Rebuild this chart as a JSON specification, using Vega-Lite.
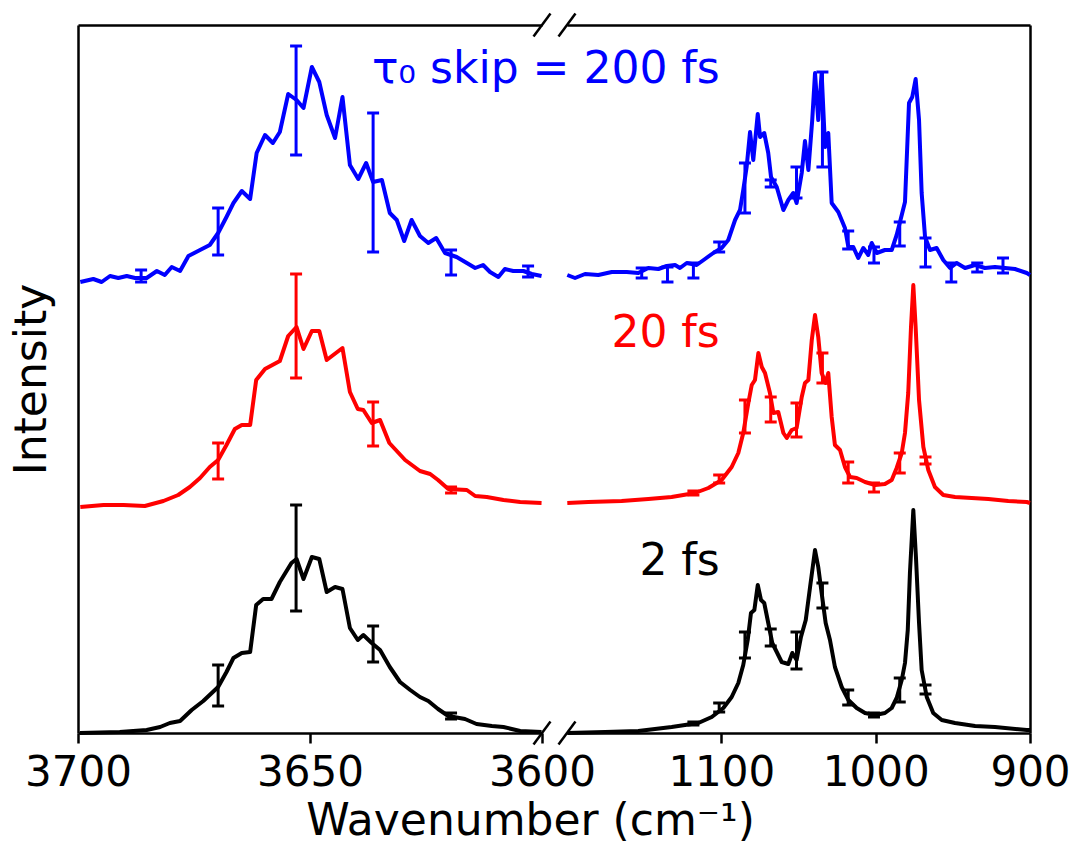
{
"$schema": "https://vega.github.io/schema/vega-lite/v6.json",
"padding": {"left": 10, "top": 12, "right": 5, "bottom": 0},
"bounds": "flush",
"spacing": 25,
"config": {"view": {"stroke": null}, "font": "DejaVu Sans",
  "axis": {"domainColor": "black", "domainWidth": 2.5, "tickColor": "black", "tickWidth": 2.5, "labelColor": "black", "titleColor": "black", "grid": false, "labelFont": "DejaVu Sans", "titleFont": "DejaVu Sans", "titleFontWeight": "normal"}},
"datasets": {
"spec": [
{"p":"L","s":"200 fs","x":3699.5,"y":4.51},{"p":"L","s":"200 fs","x":3696.7,"y":4.54},{"p":"L","s":"200 fs","x":3694.9,"y":4.51},{"p":"L","s":"200 fs","x":3693.1,"y":4.57},{"p":"L","s":"200 fs","x":3691.3,"y":4.55},{"p":"L","s":"200 fs","x":3689.5,"y":4.57},{"p":"L","s":"200 fs","x":3687.7,"y":4.55},{"p":"L","s":"200 fs","x":3685.2,"y":4.55},{"p":"L","s":"200 fs","x":3683.0,"y":4.62},{"p":"L","s":"200 fs","x":3681.3,"y":4.58},{"p":"L","s":"200 fs","x":3679.8,"y":4.66},{"p":"L","s":"200 fs","x":3678.0,"y":4.62},{"p":"L","s":"200 fs","x":3676.2,"y":4.77},{"p":"L","s":"200 fs","x":3673.7,"y":4.83},{"p":"L","s":"200 fs","x":3671.6,"y":4.88},{"p":"L","s":"200 fs","x":3669.8,"y":5.00},{"p":"L","s":"200 fs","x":3668.0,"y":5.16},{"p":"L","s":"200 fs","x":3666.5,"y":5.30},{"p":"L","s":"200 fs","x":3664.7,"y":5.42},{"p":"L","s":"200 fs","x":3662.9,"y":5.34},{"p":"L","s":"200 fs","x":3661.5,"y":5.80},{"p":"L","s":"200 fs","x":3659.7,"y":5.98},{"p":"L","s":"200 fs","x":3658.0,"y":5.90},{"p":"L","s":"200 fs","x":3656.5,"y":6.01},{"p":"L","s":"200 fs","x":3654.7,"y":6.39},{"p":"L","s":"200 fs","x":3652.9,"y":6.33},{"p":"L","s":"200 fs","x":3651.4,"y":6.25},{"p":"L","s":"200 fs","x":3649.6,"y":6.66},{"p":"L","s":"200 fs","x":3648.0,"y":6.51},{"p":"L","s":"200 fs","x":3646.4,"y":6.18},{"p":"L","s":"200 fs","x":3644.6,"y":5.95},{"p":"L","s":"200 fs","x":3643.0,"y":6.36},{"p":"L","s":"200 fs","x":3641.4,"y":5.68},{"p":"L","s":"200 fs","x":3639.6,"y":5.54},{"p":"L","s":"200 fs","x":3637.9,"y":5.70},{"p":"L","s":"200 fs","x":3636.4,"y":5.51},{"p":"L","s":"200 fs","x":3634.5,"y":5.53},{"p":"L","s":"200 fs","x":3632.8,"y":5.20},{"p":"L","s":"200 fs","x":3631.3,"y":5.13},{"p":"L","s":"200 fs","x":3629.7,"y":4.92},{"p":"L","s":"200 fs","x":3628.1,"y":5.13},{"p":"L","s":"200 fs","x":3626.3,"y":4.97},{"p":"L","s":"200 fs","x":3624.5,"y":4.90},{"p":"L","s":"200 fs","x":3622.8,"y":4.95},{"p":"L","s":"200 fs","x":3620.9,"y":4.80},{"p":"L","s":"200 fs","x":3618.4,"y":4.76},{"p":"L","s":"200 fs","x":3616.2,"y":4.70},{"p":"L","s":"200 fs","x":3614.4,"y":4.65},{"p":"L","s":"200 fs","x":3612.7,"y":4.68},{"p":"L","s":"200 fs","x":3611.2,"y":4.61},{"p":"L","s":"200 fs","x":3609.4,"y":4.56},{"p":"L","s":"200 fs","x":3608.0,"y":4.64},{"p":"L","s":"200 fs","x":3606.2,"y":4.62},{"p":"L","s":"200 fs","x":3604.0,"y":4.62},{"p":"L","s":"200 fs","x":3602.2,"y":4.59},{"p":"L","s":"200 fs","x":3600.1,"y":4.57},
{"p":"L","s":"20 fs","x":3699.5,"y":2.26},{"p":"L","s":"20 fs","x":3694.5,"y":2.28},{"p":"L","s":"20 fs","x":3690.2,"y":2.28},{"p":"L","s":"20 fs","x":3685.6,"y":2.27},{"p":"L","s":"20 fs","x":3681.6,"y":2.32},{"p":"L","s":"20 fs","x":3678.4,"y":2.38},{"p":"L","s":"20 fs","x":3675.9,"y":2.46},{"p":"L","s":"20 fs","x":3673.7,"y":2.55},{"p":"L","s":"20 fs","x":3671.6,"y":2.66},{"p":"L","s":"20 fs","x":3669.8,"y":2.73},{"p":"L","s":"20 fs","x":3668.0,"y":2.88},{"p":"L","s":"20 fs","x":3666.2,"y":3.04},{"p":"L","s":"20 fs","x":3664.7,"y":3.08},{"p":"L","s":"20 fs","x":3662.9,"y":3.08},{"p":"L","s":"20 fs","x":3661.6,"y":3.53},{"p":"L","s":"20 fs","x":3659.7,"y":3.64},{"p":"L","s":"20 fs","x":3656.5,"y":3.72},{"p":"L","s":"20 fs","x":3654.7,"y":3.97},{"p":"L","s":"20 fs","x":3652.9,"y":4.06},{"p":"L","s":"20 fs","x":3651.4,"y":3.84},{"p":"L","s":"20 fs","x":3649.6,"y":4.02},{"p":"L","s":"20 fs","x":3648.0,"y":4.02},{"p":"L","s":"20 fs","x":3646.4,"y":3.73},{"p":"L","s":"20 fs","x":3643.0,"y":3.85},{"p":"L","s":"20 fs","x":3641.4,"y":3.41},{"p":"L","s":"20 fs","x":3639.7,"y":3.24},{"p":"L","s":"20 fs","x":3638.5,"y":3.23},{"p":"L","s":"20 fs","x":3636.7,"y":3.10},{"p":"L","s":"20 fs","x":3634.9,"y":3.13},{"p":"L","s":"20 fs","x":3632.9,"y":2.90},{"p":"L","s":"20 fs","x":3629.5,"y":2.73},{"p":"L","s":"20 fs","x":3626.3,"y":2.62},{"p":"L","s":"20 fs","x":3624.1,"y":2.59},{"p":"L","s":"20 fs","x":3622.4,"y":2.53},{"p":"L","s":"20 fs","x":3620.2,"y":2.44},{"p":"L","s":"20 fs","x":3616.2,"y":2.43},{"p":"L","s":"20 fs","x":3614.4,"y":2.37},{"p":"L","s":"20 fs","x":3611.9,"y":2.36},{"p":"L","s":"20 fs","x":3608.3,"y":2.33},{"p":"L","s":"20 fs","x":3604.7,"y":2.31},{"p":"L","s":"20 fs","x":3600.1,"y":2.30},
{"p":"L","s":"2 fs","x":3699.6,"y":0.00},{"p":"L","s":"2 fs","x":3691.0,"y":0.01},{"p":"L","s":"2 fs","x":3685.2,"y":0.03},{"p":"L","s":"2 fs","x":3682.3,"y":0.06},{"p":"L","s":"2 fs","x":3680.2,"y":0.10},{"p":"L","s":"2 fs","x":3678.0,"y":0.12},{"p":"L","s":"2 fs","x":3675.5,"y":0.23},{"p":"L","s":"2 fs","x":3673.0,"y":0.32},{"p":"L","s":"2 fs","x":3669.8,"y":0.46},{"p":"L","s":"2 fs","x":3668.0,"y":0.61},{"p":"L","s":"2 fs","x":3666.5,"y":0.75},{"p":"L","s":"2 fs","x":3664.7,"y":0.80},{"p":"L","s":"2 fs","x":3662.9,"y":0.81},{"p":"L","s":"2 fs","x":3661.6,"y":1.28},{"p":"L","s":"2 fs","x":3660.1,"y":1.34},{"p":"L","s":"2 fs","x":3658.3,"y":1.34},{"p":"L","s":"2 fs","x":3656.5,"y":1.51},{"p":"L","s":"2 fs","x":3654.0,"y":1.70},{"p":"L","s":"2 fs","x":3652.9,"y":1.74},{"p":"L","s":"2 fs","x":3651.4,"y":1.54},{"p":"L","s":"2 fs","x":3649.6,"y":1.76},{"p":"L","s":"2 fs","x":3648.0,"y":1.74},{"p":"L","s":"2 fs","x":3646.4,"y":1.41},{"p":"L","s":"2 fs","x":3644.6,"y":1.46},{"p":"L","s":"2 fs","x":3643.0,"y":1.44},{"p":"L","s":"2 fs","x":3641.4,"y":1.05},{"p":"L","s":"2 fs","x":3639.7,"y":0.93},{"p":"L","s":"2 fs","x":3638.5,"y":0.98},{"p":"L","s":"2 fs","x":3636.7,"y":0.90},{"p":"L","s":"2 fs","x":3634.9,"y":0.83},{"p":"L","s":"2 fs","x":3632.8,"y":0.66},{"p":"L","s":"2 fs","x":3630.6,"y":0.51},{"p":"L","s":"2 fs","x":3628.4,"y":0.43},{"p":"L","s":"2 fs","x":3626.3,"y":0.36},{"p":"L","s":"2 fs","x":3624.5,"y":0.32},{"p":"L","s":"2 fs","x":3622.4,"y":0.24},{"p":"L","s":"2 fs","x":3620.2,"y":0.17},{"p":"L","s":"2 fs","x":3616.6,"y":0.14},{"p":"L","s":"2 fs","x":3614.1,"y":0.09},{"p":"L","s":"2 fs","x":3610.8,"y":0.07},{"p":"L","s":"2 fs","x":3608.3,"y":0.06},{"p":"L","s":"2 fs","x":3604.7,"y":0.02},{"p":"L","s":"2 fs","x":3600.1,"y":0.01},
{"p":"R","s":"200 fs","x":1199.8,"y":4.58},{"p":"R","s":"200 fs","x":1194.8,"y":4.55},{"p":"R","s":"200 fs","x":1188.3,"y":4.59},{"p":"R","s":"200 fs","x":1179.7,"y":4.58},{"p":"R","s":"200 fs","x":1171.0,"y":4.61},{"p":"R","s":"200 fs","x":1161.3,"y":4.61},{"p":"R","s":"200 fs","x":1153.8,"y":4.60},{"p":"R","s":"200 fs","x":1147.3,"y":4.65},{"p":"R","s":"200 fs","x":1140.8,"y":4.64},{"p":"R","s":"200 fs","x":1135.4,"y":4.67},{"p":"R","s":"200 fs","x":1130.0,"y":4.68},{"p":"R","s":"200 fs","x":1126.8,"y":4.65},{"p":"R","s":"200 fs","x":1122.4,"y":4.70},{"p":"R","s":"200 fs","x":1116.0,"y":4.68},{"p":"R","s":"200 fs","x":1110.6,"y":4.74},{"p":"R","s":"200 fs","x":1105.2,"y":4.80},{"p":"R","s":"200 fs","x":1099.8,"y":4.85},{"p":"R","s":"200 fs","x":1095.5,"y":4.93},{"p":"R","s":"200 fs","x":1091.1,"y":5.13},{"p":"R","s":"200 fs","x":1087.9,"y":5.23},{"p":"R","s":"200 fs","x":1085.8,"y":5.43},{"p":"R","s":"200 fs","x":1083.6,"y":5.66},{"p":"R","s":"200 fs","x":1081.4,"y":6.01},{"p":"R","s":"200 fs","x":1079.3,"y":5.73},{"p":"R","s":"200 fs","x":1076.4,"y":6.19},{"p":"R","s":"200 fs","x":1074.9,"y":5.96},{"p":"R","s":"200 fs","x":1072.2,"y":6.00},{"p":"R","s":"200 fs","x":1069.6,"y":5.80},{"p":"R","s":"200 fs","x":1067.8,"y":5.56},{"p":"R","s":"200 fs","x":1064.1,"y":5.46},{"p":"R","s":"200 fs","x":1059.8,"y":5.23},{"p":"R","s":"200 fs","x":1056.6,"y":5.33},{"p":"R","s":"200 fs","x":1053.4,"y":5.40},{"p":"R","s":"200 fs","x":1051.2,"y":5.30},{"p":"R","s":"200 fs","x":1047.9,"y":5.60},{"p":"R","s":"200 fs","x":1045.8,"y":5.92},{"p":"R","s":"200 fs","x":1043.6,"y":5.63},{"p":"R","s":"200 fs","x":1041.1,"y":6.13},{"p":"R","s":"200 fs","x":1039.3,"y":6.60},{"p":"R","s":"200 fs","x":1037.2,"y":6.13},{"p":"R","s":"200 fs","x":1035.0,"y":6.60},{"p":"R","s":"200 fs","x":1032.8,"y":5.86},{"p":"R","s":"200 fs","x":1030.7,"y":6.00},{"p":"R","s":"200 fs","x":1028.5,"y":5.30},{"p":"R","s":"200 fs","x":1024.2,"y":5.21},{"p":"R","s":"200 fs","x":1019.9,"y":5.05},{"p":"R","s":"200 fs","x":1017.7,"y":4.86},{"p":"R","s":"200 fs","x":1014.5,"y":4.86},{"p":"R","s":"200 fs","x":1011.3,"y":4.75},{"p":"R","s":"200 fs","x":1008.0,"y":4.85},{"p":"R","s":"200 fs","x":1004.8,"y":4.78},{"p":"R","s":"200 fs","x":1002.6,"y":4.90},{"p":"R","s":"200 fs","x":999.3,"y":4.80},{"p":"R","s":"200 fs","x":994.0,"y":4.83},{"p":"R","s":"200 fs","x":989.6,"y":4.83},{"p":"R","s":"200 fs","x":986.4,"y":4.98},{"p":"R","s":"200 fs","x":983.1,"y":5.18},{"p":"R","s":"200 fs","x":981.0,"y":5.31},{"p":"R","s":"200 fs","x":978.4,"y":6.30},{"p":"R","s":"200 fs","x":976.3,"y":6.36},{"p":"R","s":"200 fs","x":974.1,"y":6.54},{"p":"R","s":"200 fs","x":971.9,"y":6.13},{"p":"R","s":"200 fs","x":970.2,"y":5.40},{"p":"R","s":"200 fs","x":968.0,"y":4.96},{"p":"R","s":"200 fs","x":964.8,"y":4.83},{"p":"R","s":"200 fs","x":960.5,"y":4.85},{"p":"R","s":"200 fs","x":956.2,"y":4.73},{"p":"R","s":"200 fs","x":951.8,"y":4.65},{"p":"R","s":"200 fs","x":947.5,"y":4.70},{"p":"R","s":"200 fs","x":942.1,"y":4.65},{"p":"R","s":"200 fs","x":935.6,"y":4.68},{"p":"R","s":"200 fs","x":929.2,"y":4.65},{"p":"R","s":"200 fs","x":922.7,"y":4.66},{"p":"R","s":"200 fs","x":916.2,"y":4.65},{"p":"R","s":"200 fs","x":909.7,"y":4.64},{"p":"R","s":"200 fs","x":902.1,"y":4.60},{"p":"R","s":"200 fs","x":900.0,"y":4.58},
{"p":"R","s":"20 fs","x":1199.8,"y":2.30},{"p":"R","s":"20 fs","x":1186.2,"y":2.31},{"p":"R","s":"20 fs","x":1164.6,"y":2.32},{"p":"R","s":"20 fs","x":1147.3,"y":2.34},{"p":"R","s":"20 fs","x":1132.2,"y":2.36},{"p":"R","s":"20 fs","x":1117.1,"y":2.40},{"p":"R","s":"20 fs","x":1108.4,"y":2.45},{"p":"R","s":"20 fs","x":1099.8,"y":2.53},{"p":"R","s":"20 fs","x":1093.3,"y":2.66},{"p":"R","s":"20 fs","x":1089.0,"y":2.80},{"p":"R","s":"20 fs","x":1085.8,"y":3.00},{"p":"R","s":"20 fs","x":1082.5,"y":3.30},{"p":"R","s":"20 fs","x":1080.3,"y":3.48},{"p":"R","s":"20 fs","x":1078.2,"y":3.53},{"p":"R","s":"20 fs","x":1076.0,"y":3.80},{"p":"R","s":"20 fs","x":1073.8,"y":3.66},{"p":"R","s":"20 fs","x":1071.7,"y":3.60},{"p":"R","s":"20 fs","x":1068.5,"y":3.40},{"p":"R","s":"20 fs","x":1066.3,"y":3.20},{"p":"R","s":"20 fs","x":1063.1,"y":3.21},{"p":"R","s":"20 fs","x":1059.8,"y":3.00},{"p":"R","s":"20 fs","x":1057.6,"y":2.95},{"p":"R","s":"20 fs","x":1054.4,"y":3.03},{"p":"R","s":"20 fs","x":1051.2,"y":3.05},{"p":"R","s":"20 fs","x":1047.9,"y":3.36},{"p":"R","s":"20 fs","x":1045.8,"y":3.50},{"p":"R","s":"20 fs","x":1043.6,"y":3.53},{"p":"R","s":"20 fs","x":1041.4,"y":3.93},{"p":"R","s":"20 fs","x":1039.3,"y":4.18},{"p":"R","s":"20 fs","x":1037.2,"y":3.96},{"p":"R","s":"20 fs","x":1035.0,"y":3.60},{"p":"R","s":"20 fs","x":1032.4,"y":3.50},{"p":"R","s":"20 fs","x":1030.7,"y":3.60},{"p":"R","s":"20 fs","x":1028.5,"y":3.16},{"p":"R","s":"20 fs","x":1026.4,"y":2.88},{"p":"R","s":"20 fs","x":1023.1,"y":2.83},{"p":"R","s":"20 fs","x":1019.9,"y":2.66},{"p":"R","s":"20 fs","x":1016.6,"y":2.56},{"p":"R","s":"20 fs","x":1012.3,"y":2.55},{"p":"R","s":"20 fs","x":1006.9,"y":2.51},{"p":"R","s":"20 fs","x":1000.4,"y":2.48},{"p":"R","s":"20 fs","x":994.0,"y":2.49},{"p":"R","s":"20 fs","x":989.6,"y":2.53},{"p":"R","s":"20 fs","x":986.4,"y":2.65},{"p":"R","s":"20 fs","x":983.1,"y":2.80},{"p":"R","s":"20 fs","x":981.0,"y":3.00},{"p":"R","s":"20 fs","x":978.9,"y":3.40},{"p":"R","s":"20 fs","x":977.1,"y":4.06},{"p":"R","s":"20 fs","x":975.6,"y":4.48},{"p":"R","s":"20 fs","x":974.1,"y":4.06},{"p":"R","s":"20 fs","x":971.9,"y":3.33},{"p":"R","s":"20 fs","x":969.1,"y":2.86},{"p":"R","s":"20 fs","x":965.9,"y":2.63},{"p":"R","s":"20 fs","x":961.6,"y":2.46},{"p":"R","s":"20 fs","x":956.2,"y":2.38},{"p":"R","s":"20 fs","x":948.6,"y":2.36},{"p":"R","s":"20 fs","x":937.8,"y":2.35},{"p":"R","s":"20 fs","x":927.0,"y":2.34},{"p":"R","s":"20 fs","x":914.1,"y":2.32},{"p":"R","s":"20 fs","x":902.1,"y":2.31},{"p":"R","s":"20 fs","x":900.0,"y":2.30},
{"p":"R","s":"2 fs","x":1199.8,"y":0.00},{"p":"R","s":"2 fs","x":1175.4,"y":0.01},{"p":"R","s":"2 fs","x":1153.8,"y":0.02},{"p":"R","s":"2 fs","x":1132.2,"y":0.06},{"p":"R","s":"2 fs","x":1114.9,"y":0.10},{"p":"R","s":"2 fs","x":1106.2,"y":0.16},{"p":"R","s":"2 fs","x":1098.7,"y":0.25},{"p":"R","s":"2 fs","x":1093.3,"y":0.36},{"p":"R","s":"2 fs","x":1089.0,"y":0.50},{"p":"R","s":"2 fs","x":1085.8,"y":0.68},{"p":"R","s":"2 fs","x":1082.9,"y":0.93},{"p":"R","s":"2 fs","x":1080.8,"y":1.20},{"p":"R","s":"2 fs","x":1078.6,"y":1.23},{"p":"R","s":"2 fs","x":1076.4,"y":1.48},{"p":"R","s":"2 fs","x":1074.3,"y":1.33},{"p":"R","s":"2 fs","x":1072.2,"y":1.30},{"p":"R","s":"2 fs","x":1069.6,"y":1.10},{"p":"R","s":"2 fs","x":1067.0,"y":0.90},{"p":"R","s":"2 fs","x":1064.1,"y":0.81},{"p":"R","s":"2 fs","x":1060.9,"y":0.71},{"p":"R","s":"2 fs","x":1056.6,"y":0.69},{"p":"R","s":"2 fs","x":1054.0,"y":0.80},{"p":"R","s":"2 fs","x":1051.2,"y":0.73},{"p":"R","s":"2 fs","x":1048.4,"y":0.96},{"p":"R","s":"2 fs","x":1045.3,"y":1.13},{"p":"R","s":"2 fs","x":1042.5,"y":1.46},{"p":"R","s":"2 fs","x":1039.3,"y":1.83},{"p":"R","s":"2 fs","x":1037.2,"y":1.66},{"p":"R","s":"2 fs","x":1035.0,"y":1.40},{"p":"R","s":"2 fs","x":1032.4,"y":1.10},{"p":"R","s":"2 fs","x":1029.6,"y":0.93},{"p":"R","s":"2 fs","x":1026.4,"y":0.66},{"p":"R","s":"2 fs","x":1022.0,"y":0.46},{"p":"R","s":"2 fs","x":1017.7,"y":0.33},{"p":"R","s":"2 fs","x":1012.3,"y":0.25},{"p":"R","s":"2 fs","x":1006.9,"y":0.20},{"p":"R","s":"2 fs","x":1000.4,"y":0.18},{"p":"R","s":"2 fs","x":994.0,"y":0.20},{"p":"R","s":"2 fs","x":989.6,"y":0.25},{"p":"R","s":"2 fs","x":986.4,"y":0.35},{"p":"R","s":"2 fs","x":983.1,"y":0.53},{"p":"R","s":"2 fs","x":981.0,"y":0.70},{"p":"R","s":"2 fs","x":979.2,"y":1.03},{"p":"R","s":"2 fs","x":977.8,"y":1.60},{"p":"R","s":"2 fs","x":975.6,"y":2.23},{"p":"R","s":"2 fs","x":973.9,"y":1.76},{"p":"R","s":"2 fs","x":971.9,"y":1.10},{"p":"R","s":"2 fs","x":970.2,"y":0.63},{"p":"R","s":"2 fs","x":966.9,"y":0.36},{"p":"R","s":"2 fs","x":962.7,"y":0.20},{"p":"R","s":"2 fs","x":957.2,"y":0.13},{"p":"R","s":"2 fs","x":948.6,"y":0.10},{"p":"R","s":"2 fs","x":935.6,"y":0.07},{"p":"R","s":"2 fs","x":922.7,"y":0.06},{"p":"R","s":"2 fs","x":902.1,"y":0.03},{"p":"R","s":"2 fs","x":900.0,"y":0.03}
],
"err": [
{"p":"L","s":"200 fs","x":3686.4,"lo":4.51,"hi":4.63},{"p":"L","s":"200 fs","x":3669.8,"lo":4.78,"hi":5.25},{"p":"L","s":"200 fs","x":3653.0,"lo":5.78,"hi":6.87},{"p":"L","s":"200 fs","x":3636.4,"lo":4.81,"hi":6.20},{"p":"L","s":"200 fs","x":3619.6,"lo":4.58,"hi":4.83},{"p":"L","s":"200 fs","x":3603.0,"lo":4.56,"hi":4.67},
{"p":"L","s":"20 fs","x":3669.8,"lo":2.54,"hi":2.90},{"p":"L","s":"20 fs","x":3653.0,"lo":3.55,"hi":4.59},{"p":"L","s":"20 fs","x":3636.4,"lo":2.87,"hi":3.31},{"p":"L","s":"20 fs","x":3619.6,"lo":2.40,"hi":2.46},
{"p":"L","s":"2 fs","x":3669.8,"lo":0.27,"hi":0.68},{"p":"L","s":"2 fs","x":3653.0,"lo":1.22,"hi":2.28},{"p":"L","s":"2 fs","x":3636.4,"lo":0.71,"hi":1.07},{"p":"L","s":"2 fs","x":3619.6,"lo":0.14,"hi":0.20},
{"p":"R","s":"200 fs","x":1151.6,"lo":4.55,"hi":4.65},{"p":"R","s":"200 fs","x":1134.9,"lo":4.51,"hi":4.66},{"p":"R","s":"200 fs","x":1118.1,"lo":4.55,"hi":4.70},{"p":"R","s":"200 fs","x":1101.4,"lo":4.81,"hi":4.91},{"p":"R","s":"200 fs","x":1084.7,"lo":5.20,"hi":5.70},{"p":"R","s":"200 fs","x":1068.0,"lo":5.46,"hi":5.53},{"p":"R","s":"200 fs","x":1051.3,"lo":5.35,"hi":5.66},{"p":"R","s":"200 fs","x":1034.5,"lo":5.66,"hi":6.61},{"p":"R","s":"200 fs","x":1017.8,"lo":4.84,"hi":5.02},{"p":"R","s":"200 fs","x":1001.1,"lo":4.70,"hi":4.86},{"p":"R","s":"200 fs","x":984.4,"lo":4.87,"hi":5.11},{"p":"R","s":"200 fs","x":967.7,"lo":4.66,"hi":4.95},{"p":"R","s":"200 fs","x":951.0,"lo":4.51,"hi":4.70},{"p":"R","s":"200 fs","x":934.2,"lo":4.61,"hi":4.70},{"p":"R","s":"200 fs","x":917.5,"lo":4.60,"hi":4.75},
{"p":"R","s":"20 fs","x":1118.1,"lo":2.38,"hi":2.42},{"p":"R","s":"20 fs","x":1101.4,"lo":2.50,"hi":2.58},{"p":"R","s":"20 fs","x":1084.7,"lo":3.00,"hi":3.33},{"p":"R","s":"20 fs","x":1068.0,"lo":3.11,"hi":3.36},{"p":"R","s":"20 fs","x":1051.3,"lo":2.96,"hi":3.30},{"p":"R","s":"20 fs","x":1034.5,"lo":3.50,"hi":3.80},{"p":"R","s":"20 fs","x":1017.8,"lo":2.50,"hi":2.71},{"p":"R","s":"20 fs","x":1001.1,"lo":2.41,"hi":2.50},{"p":"R","s":"20 fs","x":984.4,"lo":2.60,"hi":2.80},{"p":"R","s":"20 fs","x":967.7,"lo":2.69,"hi":2.76},
{"p":"R","s":"2 fs","x":1118.1,"lo":0.08,"hi":0.11},{"p":"R","s":"2 fs","x":1101.4,"lo":0.21,"hi":0.30},{"p":"R","s":"2 fs","x":1084.7,"lo":0.75,"hi":1.01},{"p":"R","s":"2 fs","x":1068.0,"lo":0.87,"hi":1.04},{"p":"R","s":"2 fs","x":1051.3,"lo":0.64,"hi":1.01},{"p":"R","s":"2 fs","x":1034.5,"lo":1.25,"hi":1.50},{"p":"R","s":"2 fs","x":1017.8,"lo":0.28,"hi":0.43},{"p":"R","s":"2 fs","x":1001.1,"lo":0.16,"hi":0.20},{"p":"R","s":"2 fs","x":984.4,"lo":0.31,"hi":0.55},{"p":"R","s":"2 fs","x":967.7,"lo":0.39,"hi":0.48}
],
"lbl": [
{"s":"200 fs","t":"τ₀ skip = 200 fs","x":1101,"y":6.50},
{"s":"20 fs","t":"20 fs","x":1101,"y":3.86},
{"s":"2 fs","t":"2 fs","x":1101,"y":1.58}
],
"brk": [
{"p":"L","x":3601.83,"x2":3598.17,"y":6.965,"y2":7.195},
{"p":"L","x":3601.83,"x2":3598.17,"y":-0.115,"y2":0.115},
{"p":"R","x":1205.5,"x2":1194.5,"y":6.965,"y2":7.195},
{"p":"R","x":1205.5,"x2":1194.5,"y":-0.115,"y2":0.115}
]
},
"hconcat": [
{
"width": 464, "height": 708,
"resolve": {"axis": {"x": "independent", "y": "independent"}},
"layer": [
{"data": {"name": "spec"}, "transform": [{"filter": "datum.p == 'L'"}],
 "mark": {"type": "line", "strokeWidth": 4, "strokeJoin": "round"},
 "encoding": {
  "x": {"field": "x", "type": "quantitative", "scale": {"domain": [3600, 3700], "reverse": true, "nice": false, "zero": false},
        "axis": {"orient": "bottom", "values": [3700, 3650, 3600], "format": "d", "labelFontSize": 42, "tickSize": 10, "labelPadding": 9, "labelFlush": false, "labelOverlap": false, "title": "Wavenumber (cm⁻¹)", "titleFontSize": 44, "titlePadding": 6, "titleX": 452}},
  "y": {"field": "y", "type": "quantitative", "scale": {"domain": [0, 7.08], "nice": false, "zero": false},
        "axis": {"orient": "left", "title": "Intensity", "titleFontSize": 44, "labels": false, "ticks": false, "titlePadding": 24}},
  "color": {"field": "s", "type": "nominal", "scale": {"domain": ["2 fs", "20 fs", "200 fs"], "range": ["#000000", "#ff0000", "#0000ff"]}, "legend": null}
 }},
{"data": {"name": "err"}, "transform": [{"filter": "datum.p == 'L'"}],
 "mark": {"type": "rule", "strokeWidth": 3},
 "encoding": {
  "x": {"field": "x", "type": "quantitative", "scale": {"domain": [3600, 3700], "reverse": true, "nice": false, "zero": false}, "axis": null},
  "y": {"field": "lo", "type": "quantitative", "scale": {"domain": [0, 7.08], "nice": false, "zero": false}, "axis": null},
  "y2": {"field": "hi"},
  "color": {"field": "s", "type": "nominal", "scale": {"domain": ["2 fs", "20 fs", "200 fs"], "range": ["#000000", "#ff0000", "#0000ff"]}, "legend": null}
 }},
{"data": {"name": "err"}, "transform": [{"filter": "datum.p == 'L'"}],
 "mark": {"type": "tick", "orient": "horizontal", "size": 12, "thickness": 3, "opacity": 1},
 "encoding": {
  "x": {"field": "x", "type": "quantitative", "scale": {"domain": [3600, 3700], "reverse": true, "nice": false, "zero": false}, "axis": null},
  "y": {"field": "lo", "type": "quantitative", "scale": {"domain": [0, 7.08], "nice": false, "zero": false}, "axis": null},
  "color": {"field": "s", "type": "nominal", "scale": {"domain": ["2 fs", "20 fs", "200 fs"], "range": ["#000000", "#ff0000", "#0000ff"]}, "legend": null}
 }},
{"data": {"name": "err"}, "transform": [{"filter": "datum.p == 'L'"}],
 "mark": {"type": "tick", "orient": "horizontal", "size": 12, "thickness": 3, "opacity": 1},
 "encoding": {
  "x": {"field": "x", "type": "quantitative", "scale": {"domain": [3600, 3700], "reverse": true, "nice": false, "zero": false}, "axis": null},
  "y": {"field": "hi", "type": "quantitative", "scale": {"domain": [0, 7.08], "nice": false, "zero": false}, "axis": null},
  "color": {"field": "s", "type": "nominal", "scale": {"domain": ["2 fs", "20 fs", "200 fs"], "range": ["#000000", "#ff0000", "#0000ff"]}, "legend": null}
 }},
{"data": {"name": "brk"}, "transform": [{"filter": "datum.p == 'L'"}],
 "mark": {"type": "rule", "strokeWidth": 2.5, "color": "black"},
 "encoding": {
  "x": {"field": "x", "type": "quantitative", "scale": {"domain": [3600, 3700], "reverse": true, "nice": false, "zero": false},
        "axis": {"orient": "top", "labels": false, "ticks": false, "title": null}},
  "x2": {"field": "x2"},
  "y": {"field": "y", "type": "quantitative", "scale": {"domain": [0, 7.08], "nice": false, "zero": false}, "axis": null},
  "y2": {"field": "y2"}
 }}
]
},
{
"width": 463, "height": 708,
"resolve": {"axis": {"x": "independent", "y": "independent"}},
"layer": [
{"data": {"name": "spec"}, "transform": [{"filter": "datum.p == 'R'"}],
 "mark": {"type": "line", "strokeWidth": 4, "strokeJoin": "round"},
 "encoding": {
  "x": {"field": "x", "type": "quantitative", "scale": {"domain": [900, 1200], "reverse": true, "nice": false, "zero": false},
        "axis": {"orient": "bottom", "values": [1100, 1000, 900], "format": "d", "labelFontSize": 42, "tickSize": 10, "labelPadding": 9, "labelFlush": false, "labelOverlap": false, "title": null}},
  "y": {"field": "y", "type": "quantitative", "scale": {"domain": [0, 7.08], "nice": false, "zero": false},
        "axis": {"orient": "right", "title": null, "labels": false, "ticks": false}},
  "color": {"field": "s", "type": "nominal", "scale": {"domain": ["2 fs", "20 fs", "200 fs"], "range": ["#000000", "#ff0000", "#0000ff"]}, "legend": null}
 }},
{"data": {"name": "err"}, "transform": [{"filter": "datum.p == 'R'"}],
 "mark": {"type": "rule", "strokeWidth": 3},
 "encoding": {
  "x": {"field": "x", "type": "quantitative", "scale": {"domain": [900, 1200], "reverse": true, "nice": false, "zero": false}, "axis": null},
  "y": {"field": "lo", "type": "quantitative", "scale": {"domain": [0, 7.08], "nice": false, "zero": false}, "axis": null},
  "y2": {"field": "hi"},
  "color": {"field": "s", "type": "nominal", "scale": {"domain": ["2 fs", "20 fs", "200 fs"], "range": ["#000000", "#ff0000", "#0000ff"]}, "legend": null}
 }},
{"data": {"name": "err"}, "transform": [{"filter": "datum.p == 'R'"}],
 "mark": {"type": "tick", "orient": "horizontal", "size": 12, "thickness": 3, "opacity": 1},
 "encoding": {
  "x": {"field": "x", "type": "quantitative", "scale": {"domain": [900, 1200], "reverse": true, "nice": false, "zero": false}, "axis": null},
  "y": {"field": "lo", "type": "quantitative", "scale": {"domain": [0, 7.08], "nice": false, "zero": false}, "axis": null},
  "color": {"field": "s", "type": "nominal", "scale": {"domain": ["2 fs", "20 fs", "200 fs"], "range": ["#000000", "#ff0000", "#0000ff"]}, "legend": null}
 }},
{"data": {"name": "err"}, "transform": [{"filter": "datum.p == 'R'"}],
 "mark": {"type": "tick", "orient": "horizontal", "size": 12, "thickness": 3, "opacity": 1},
 "encoding": {
  "x": {"field": "x", "type": "quantitative", "scale": {"domain": [900, 1200], "reverse": true, "nice": false, "zero": false}, "axis": null},
  "y": {"field": "hi", "type": "quantitative", "scale": {"domain": [0, 7.08], "nice": false, "zero": false}, "axis": null},
  "color": {"field": "s", "type": "nominal", "scale": {"domain": ["2 fs", "20 fs", "200 fs"], "range": ["#000000", "#ff0000", "#0000ff"]}, "legend": null}
 }},
{"data": {"name": "lbl"},
 "mark": {"type": "text", "align": "right", "baseline": "alphabetic", "fontSize": 44, "font": "DejaVu Sans"},
 "encoding": {
  "x": {"field": "x", "type": "quantitative", "scale": {"domain": [900, 1200], "reverse": true, "nice": false, "zero": false}, "axis": null},
  "y": {"field": "y", "type": "quantitative", "scale": {"domain": [0, 7.08], "nice": false, "zero": false}, "axis": null},
  "text": {"field": "t"},
  "color": {"field": "s", "type": "nominal", "scale": {"domain": ["2 fs", "20 fs", "200 fs"], "range": ["#000000", "#ff0000", "#0000ff"]}, "legend": null}
 }},
{"data": {"name": "brk"}, "transform": [{"filter": "datum.p == 'R'"}],
 "mark": {"type": "rule", "strokeWidth": 2.5, "color": "black"},
 "encoding": {
  "x": {"field": "x", "type": "quantitative", "scale": {"domain": [900, 1200], "reverse": true, "nice": false, "zero": false},
        "axis": {"orient": "top", "labels": false, "ticks": false, "title": null}},
  "x2": {"field": "x2"},
  "y": {"field": "y", "type": "quantitative", "scale": {"domain": [0, 7.08], "nice": false, "zero": false}, "axis": null},
  "y2": {"field": "y2"}
 }}
]
}
]
}
